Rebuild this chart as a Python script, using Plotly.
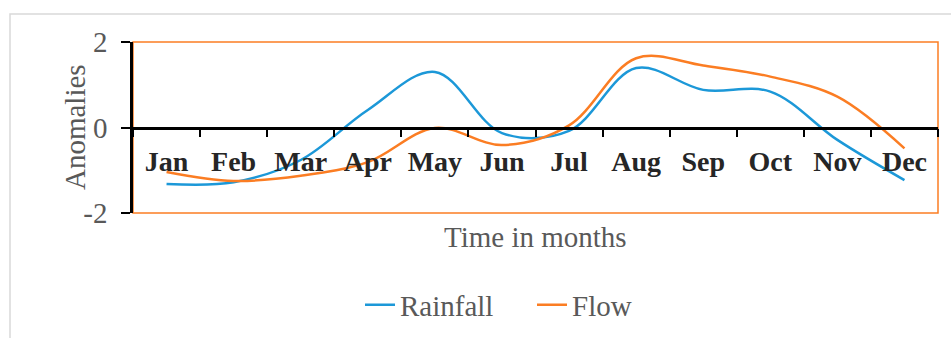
import plotly.graph_objects as go

months = ["Jan", "Feb", "Mar", "Apr", "May", "Jun", "Jul", "Aug", "Sep", "Oct", "Nov", "Dec"]
rainfall = [-1.32, -1.28, -0.76, 0.41, 1.30, -0.13, -0.08, 1.39, 0.88, 0.84, -0.29, -1.23]
flow = [-1.04, -1.25, -1.13, -0.81, -0.01, -0.41, 0.05, 1.62, 1.45, 1.19, 0.72, -0.49]
y_ticks = [-2, 0, 2]

BLUE = "#1c98d8"
ORANGE = "#fb7d23"
GREY = "#595959"
SERIF = "Liberation Serif, Times New Roman, serif"

fig = go.Figure()
fig.add_trace(go.Scatter(x=months, y=rainfall, name="Rainfall", mode="lines",
                         line=dict(color=BLUE, width=2.5, shape="spline", smoothing=1.0)))
fig.add_trace(go.Scatter(x=months, y=flow, name="Flow", mode="lines",
                         line=dict(color=ORANGE, width=2.5, shape="spline", smoothing=1.0)))

W, H = 951, 338
L, R, T, B = 133, 13, 42, 125
pw, ph = W - L - R, H - T - B


def px_x(v):
    return (v - L) / pw


def px_y(v):
    return (H - B - v) / ph


fig.update_layout(
    width=W, height=H,
    margin=dict(l=L, r=R, t=T, b=B, autoexpand=False),
    paper_bgcolor="white", plot_bgcolor="white",
    font=dict(family=SERIF, color=GREY),
    showlegend=True,
    legend=dict(orientation="h", x=px_x(360), xanchor="left", y=px_y(305), yanchor="middle",
                font=dict(size=29, color=GREY, family=SERIF),
                entrywidth=127, entrywidthmode="pixels",
                bgcolor="rgba(0,0,0,0)"),
    xaxis=dict(
        type="category", range=[-0.5, len(months) - 0.5], automargin=False,
        anchor="free", position=0.5,
        showline=True, linecolor="black", linewidth=2.5,
        ticks="outside", ticklen=8, tickwidth=2, tickcolor="black",
        tickson="boundaries", showgrid=False, zeroline=False,
        ticklabelstandoff=8,
        tickfont=dict(size=28, color="#262626", family=SERIF, weight="bold"),
    ),
    yaxis=dict(
        range=[-2, 2], tickvals=y_ticks, ticktext=[str(v) for v in y_ticks],
        automargin=False,
        showline=True, linecolor="black", linewidth=2.5,
        ticks="outside", ticklen=9, tickwidth=2, tickcolor="black",
        showgrid=False, zeroline=False,
        ticklabelstandoff=8,
        tickfont=dict(size=29, color=GREY, family=SERIF),
    ),
    shapes=[
        # plot area frame
        dict(type="rect", xref="paper", yref="paper", x0=0, x1=1, y0=0, y1=1,
             line=dict(color=ORANGE, width=1.5), layer="below"),
        # chart area frame
        dict(type="rect", xref="paper", yref="paper", x0=px_x(10), x1=px_x(960),
             y0=px_y(345), y1=px_y(14), line=dict(color="#d9d9d9", width=1.5), layer="below"),
    ],
    annotations=[
        dict(text="Anomalies", xref="paper", yref="paper", x=px_x(75), y=px_y(127),
             xanchor="center", yanchor="middle", textangle=-90, showarrow=False,
             font=dict(size=29, color=GREY, family=SERIF)),
        dict(text="Time in months", xref="paper", yref="paper", x=px_x(535), y=px_y(237),
             xanchor="center", yanchor="middle", showarrow=False,
             font=dict(size=29, color=GREY, family=SERIF)),
    ],
)

fig.write_html("out.html")
